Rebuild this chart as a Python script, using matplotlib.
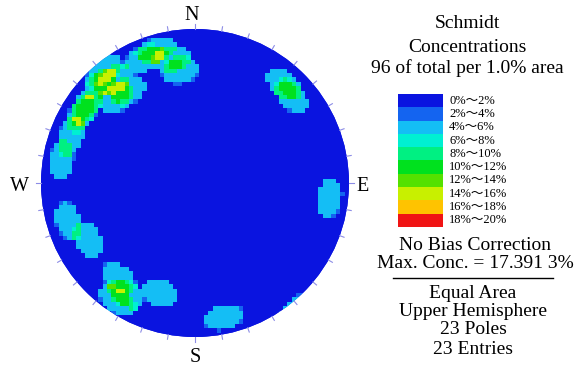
import numpy as np
import matplotlib
matplotlib.use("Agg")
import matplotlib.pyplot as plt
from matplotlib.colors import ListedColormap, BoundaryNorm
from matplotlib.patches import Circle
from matplotlib.lines import Line2D

plt.rcParams['font.family'] = ['Liberation Serif', 'Noto Sans CJK SC']

# poles: trend / plunge (deg)
trend = [321.2, 321.5, 316.2, 324.2, 317.1, 305.2, 301.4, 290.6, 279.7,
         337.8, 343.7, 349.6, 352.5,
         42.0, 48.1,
         96.3,
         253.3, 242.0,
         219.0, 211.9, 213.4,
         197.6,
         167.9]
plunge = [6.5, 15.6, 11.9, 26.5, 25.6, 14.4, 15.0, 14.5, 12.8,
          13.4, 11.0, 18.6, 26.9,
          14.5, 16.5,
          12.8,
          15.0, 22.3,
          21.7, 16.2, 9.0,
          26.0,
          11.3]

levels = [0, 2, 4, 6, 8, 10, 12, 14, 16, 18, 20]
level_labels = ["0%～2%", "2%～4%", "4%～6%", "6%～8%", "8%～10%",
                "10%～12%", "12%～14%", "14%～16%", "16%～18%", "18%～20%"]
level_colors = ["#0a14e0", "#1464f0", "#14bef5", "#00f0d2", "#00f082",
                "#00e11e", "#55e100", "#c8f000", "#ffc300", "#f01414"]

compass = ["N", "E", "S", "W"]

info_top = ["Schmidt", "Concentrations", "96 of total per 1.0% area"]
info_mid = ["No Bias Correction", "Max. Conc. = 17.391 3%"]
info_bot = ["Equal Area", "Upper Hemisphere", "23 Poles", "23 Entries"]


def unit_vec(az, theta):
    # az clockwise from N, theta from vertical (radians)
    return np.stack([np.sin(theta) * np.sin(az),
                     np.sin(theta) * np.cos(az),
                     np.cos(theta)], axis=-1)


def density(n=70, alpha=8.5, soft=0.8, peak=0.25):
    # counting circle (1% area) with a slightly raised centre
    edges = np.linspace(-1, 1, n + 1)
    c = 0.5 * (edges[:-1] + edges[1:])
    X, Y = np.meshgrid(c, c)
    r = np.clip(np.hypot(X, Y), 0, 1)
    th = 2 * np.arcsin(r / np.sqrt(2))
    az = np.arctan2(X, Y)
    g = unit_vec(az, th)
    p = unit_vec(np.radians(trend), np.radians(90 - np.array(plunge)))
    dots = np.abs(np.einsum('ijk,pk->ijp', g, p))
    ang = np.degrees(np.arccos(np.clip(dots, -1, 1)))
    inside = np.clip((alpha - ang) / soft + 0.5, 0, 1)
    w = inside * (1 + peak * np.clip(1 - (ang / alpha) ** 2, 0, 1))
    return edges, 100.0 * w.sum(axis=-1) / len(trend)


fig = plt.figure(figsize=(5.78, 3.71), dpi=100)
R = 154.0
ax = fig.add_axes([0, 0, 390 / 578, 1])
ax.set_xlim(-195 / R, 195 / R)
ax.set_ylim((183 - 371) / R, 183 / R)
ax.axis('off')

edges, dens = density()
cmap = ListedColormap(level_colors)
norm = BoundaryNorm(levels, cmap.N)
disc = Circle((0, 0), 1.0, facecolor=level_colors[0], edgecolor='none')
ax.add_patch(disc)
mesh = ax.pcolormesh(edges, edges, dens, cmap=cmap, norm=norm)
mesh.set_clip_path(disc)

# ticks every 10 deg
for a in np.radians(np.arange(0, 360, 10)):
    ax.plot([np.sin(a), 1.03 * np.sin(a)], [np.cos(a), 1.03 * np.cos(a)],
            color='#8c8ce6', lw=0.8)

pos = {"N": (-0.02, 1.085), "E": (1.09, -0.025), "S": (0.0, -1.13), "W": (-1.14, -0.025)}
for k in compass:
    ax.text(pos[k][0], pos[k][1], k, fontsize=14.5, ha='center', va='center')


def ftext(x, y, s, **kw):
    fig.text(x / 578, 1 - y / 371, s, **kw)


for s, y in zip(info_top, [24, 47, 68]):
    ftext(467, y, s, fontsize=14, ha='center', va='center')

# legend bar
lax = fig.add_axes([398 / 578, 1 - 227 / 371, 45 / 578, 133 / 371])
lax.barh(range(len(level_colors)), 1, height=1, color=level_colors)
lax.set_xlim(0, 1)
lax.set_ylim(len(level_colors) - 0.5, -0.5)
lax.axis('off')
for i, s in enumerate(level_labels):
    ftext(449, 94 + 13.3 * (i + 0.5), s, fontsize=9, ha='left', va='center')

for s, y in zip(info_mid, [245, 263]):
    ftext(475, y, s, fontsize=14, ha='center', va='center')
fig.add_artist(Line2D([393 / 578, 553 / 578], [1 - 278 / 371] * 2, color='black', lw=1))
for s, y in zip(info_bot, [293, 312, 330, 349]):
    ftext(473, y, s, fontsize=14, ha='center', va='center')

fig.savefig("out.png", dpi=100)
